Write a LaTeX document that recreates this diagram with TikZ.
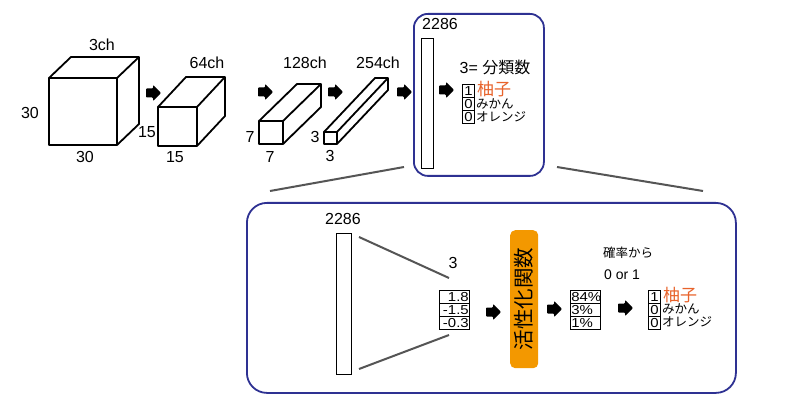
\documentclass[tikz,border=0pt]{standalone}
\usepackage{fontspec}
\setmainfont{Liberation Sans}
\newfontfamily\jp{Noto Sans CJK JP}
\newfontfamily\widesans[FakeStretch=1.15]{Liberation Sans}
\usetikzlibrary{calc}
\definecolor{navy}{HTML}{2E3192}
\definecolor{orng}{HTML}{F39800}
\definecolor{yuzu}{HTML}{E8632B}
\definecolor{conn}{HTML}{555555}
\newcommand\mycuboid[6]{%
  \draw[cube] (#1,#2) rectangle (#3,#4);
  \draw[cube] (#1,#2) -- (#1+#5,#2-#6) -- (#3+#5,#2-#6) -- (#3+#5,#4-#6) -- (#3,#4);
  \draw[cube] (#3,#2) -- (#3+#5,#2-#6);}
\tikzset{
  cube/.style={line width=1.8pt, line join=round},
  lbl/.style={font=\fontsize{16}{18}\selectfont, inner sep=0pt},
  small/.style={font=\fontsize{12.5}{13}\selectfont\jp, inner sep=0pt, anchor=west},
  cell/.style={draw, line width=1pt, inner sep=0pt, anchor=north west,
    minimum width=12pt, minimum height=13pt, font=\fontsize{13}{13}\selectfont\widesans},
  ncell/.style={draw, line width=1pt, inner sep=0pt, anchor=north west,
    minimum width=30pt, minimum height=13pt, text width=28.5pt,
    font=\fontsize{13}{13}\selectfont\widesans},
  bar/.style={draw, line width=1.3pt, inner sep=0pt, anchor=north west},
  frame/.style={draw=navy, line width=1.8pt, inner sep=0pt, anchor=north west},
  link/.style={draw=conn, line width=2pt},
  blk/.pic={\fill[rounded corners=0.8pt] (0,-4.5) -- (7,-4.5) -- (7,-8) -- (15,0) -- (7,8) -- (7,4.5) -- (0,4.5) -- cycle;},
  yz/.style={font=\fontsize{17}{17}\selectfont\jp, text=yuzu, inner sep=0pt, anchor=west},
}
\begin{document}
\begin{tikzpicture}[x=1pt,y=-1pt]
\useasboundingbox (0,0) rectangle (800,414);
\fill[white] (0,0) rectangle (800,414);
% cuboids
\mycuboid{49}{78}{117}{145}{22}{21}
\mycuboid{158}{107}{197}{146}{28}{30}
\mycuboid{259}{121}{283}{144}{38}{37}
\mycuboid{324}{132}{337}{144}{51}{54}
% cuboid labels
\node[lbl] (c1ch) at (102,45) {3ch};
\node[lbl] (c1h) at (30,113) {30};
\node[lbl] (c1w) at (85,157) {30};
\node[lbl] (c1d) at (147,132) {15};
\node[lbl] (c2ch) at (207,63) {64ch};
\node[lbl] (c2w) at (175,157) {15};
\node[lbl] (c3ch) at (305,63) {128ch};
\node[lbl] (c3h) at (250,137) {7};
\node[lbl] (c3w) at (270,157) {7};
\node[lbl] (c4ch) at (378,63) {254ch};
\node[lbl] (c4h) at (315,137) {3};
\node[lbl] (c4w) at (330,156) {3};
% arrows top
\pic at (146,93) {blk};
\pic at (258,92) {blk};
\pic at (328,92) {blk};
\pic at (397,92) {blk};
\pic at (439,90) {blk};
% top frame
\node[frame, rounded corners=14pt, minimum width=130pt, minimum height=162pt] (top) at (413,13) {};
\node[bar, minimum width=12pt, minimum height=130pt] (bar1) at (421,38) {};
\node[lbl] (n1) at (440,24) {2286};
\node[lbl] (cls) at (495,67) {3= {\jp 分類数}};
\node[cell] (t1) at (462,84) {1};
\node[cell] (t2) at (462,97) {0};
\node[cell] (t3) at (462,110) {0};
\node[yz] (y1) at (477,89) {柚子};
\node[small] (m1) at (476,104) {みかん};
\node[small] (o1) at (476,117) {オレンジ};
% links
\coordinate (la) at (404,167);
\coordinate (lb) at (270,191);
\coordinate (ra) at (557,167);
\coordinate (rb) at (703,191);
\draw[link] (la) -- (lb);
\draw[link] (ra) -- (rb);
% bottom frame
\node[frame, rounded corners=20pt, minimum width=489pt, minimum height=190pt] (bot) at (246,202) {};
\node[bar, minimum width=15pt, minimum height=141pt] (bar2) at (336,233) {};
\node[lbl] (n2) at (343,219) {2286};
\coordinate (f1) at (359,237);
\coordinate (f2) at (449,278);
\coordinate (f3) at (359,369);
\coordinate (f4) at (449,335);
\draw[link] (f1) -- (f2);
\draw[link] (f3) -- (f4);
\node[lbl] (three) at (453,263) {3};
\node[ncell, align=right] (v1) at (439,290) {1.8};
\node[ncell, align=right] (v2) at (439,303) {-1.5};
\node[ncell, align=right] (v3) at (439,316) {-0.3};
\pic at (486,312) {blk};
\node[fill=orng, rounded corners=5pt, anchor=north west, minimum width=28pt, minimum height=138pt, inner sep=0pt] (act) at (510,230) {};
\node[rotate=90, font=\fontsize{20.5}{20}\selectfont\jp, inner sep=0pt] (actt) at (act.center) {活性化関数};
\pic at (547,309) {blk};
\node[ncell, align=left] (p1) at (570,290) {84\%};
\node[ncell, align=left] (p2) at (570,303) {3\%};
\node[ncell, align=left] (p3) at (570,316) {1\%};
\node[small, anchor=center] (kr) at (628,253) {確率から};
\node[lbl, anchor=center, font=\fontsize{14}{14}\selectfont] (oo) at (622,275) {0 or 1};
\pic at (618,308) {blk};
\node[cell] (u1) at (648,290) {1};
\node[cell] (u2) at (648,303) {0};
\node[cell] (u3) at (648,316) {0};
\node[yz] (y2) at (663,295) {柚子};
\node[small] (m2) at (662,309) {みかん};
\node[small] (o2) at (662,322) {オレンジ};
\end{tikzpicture}
\end{document}
